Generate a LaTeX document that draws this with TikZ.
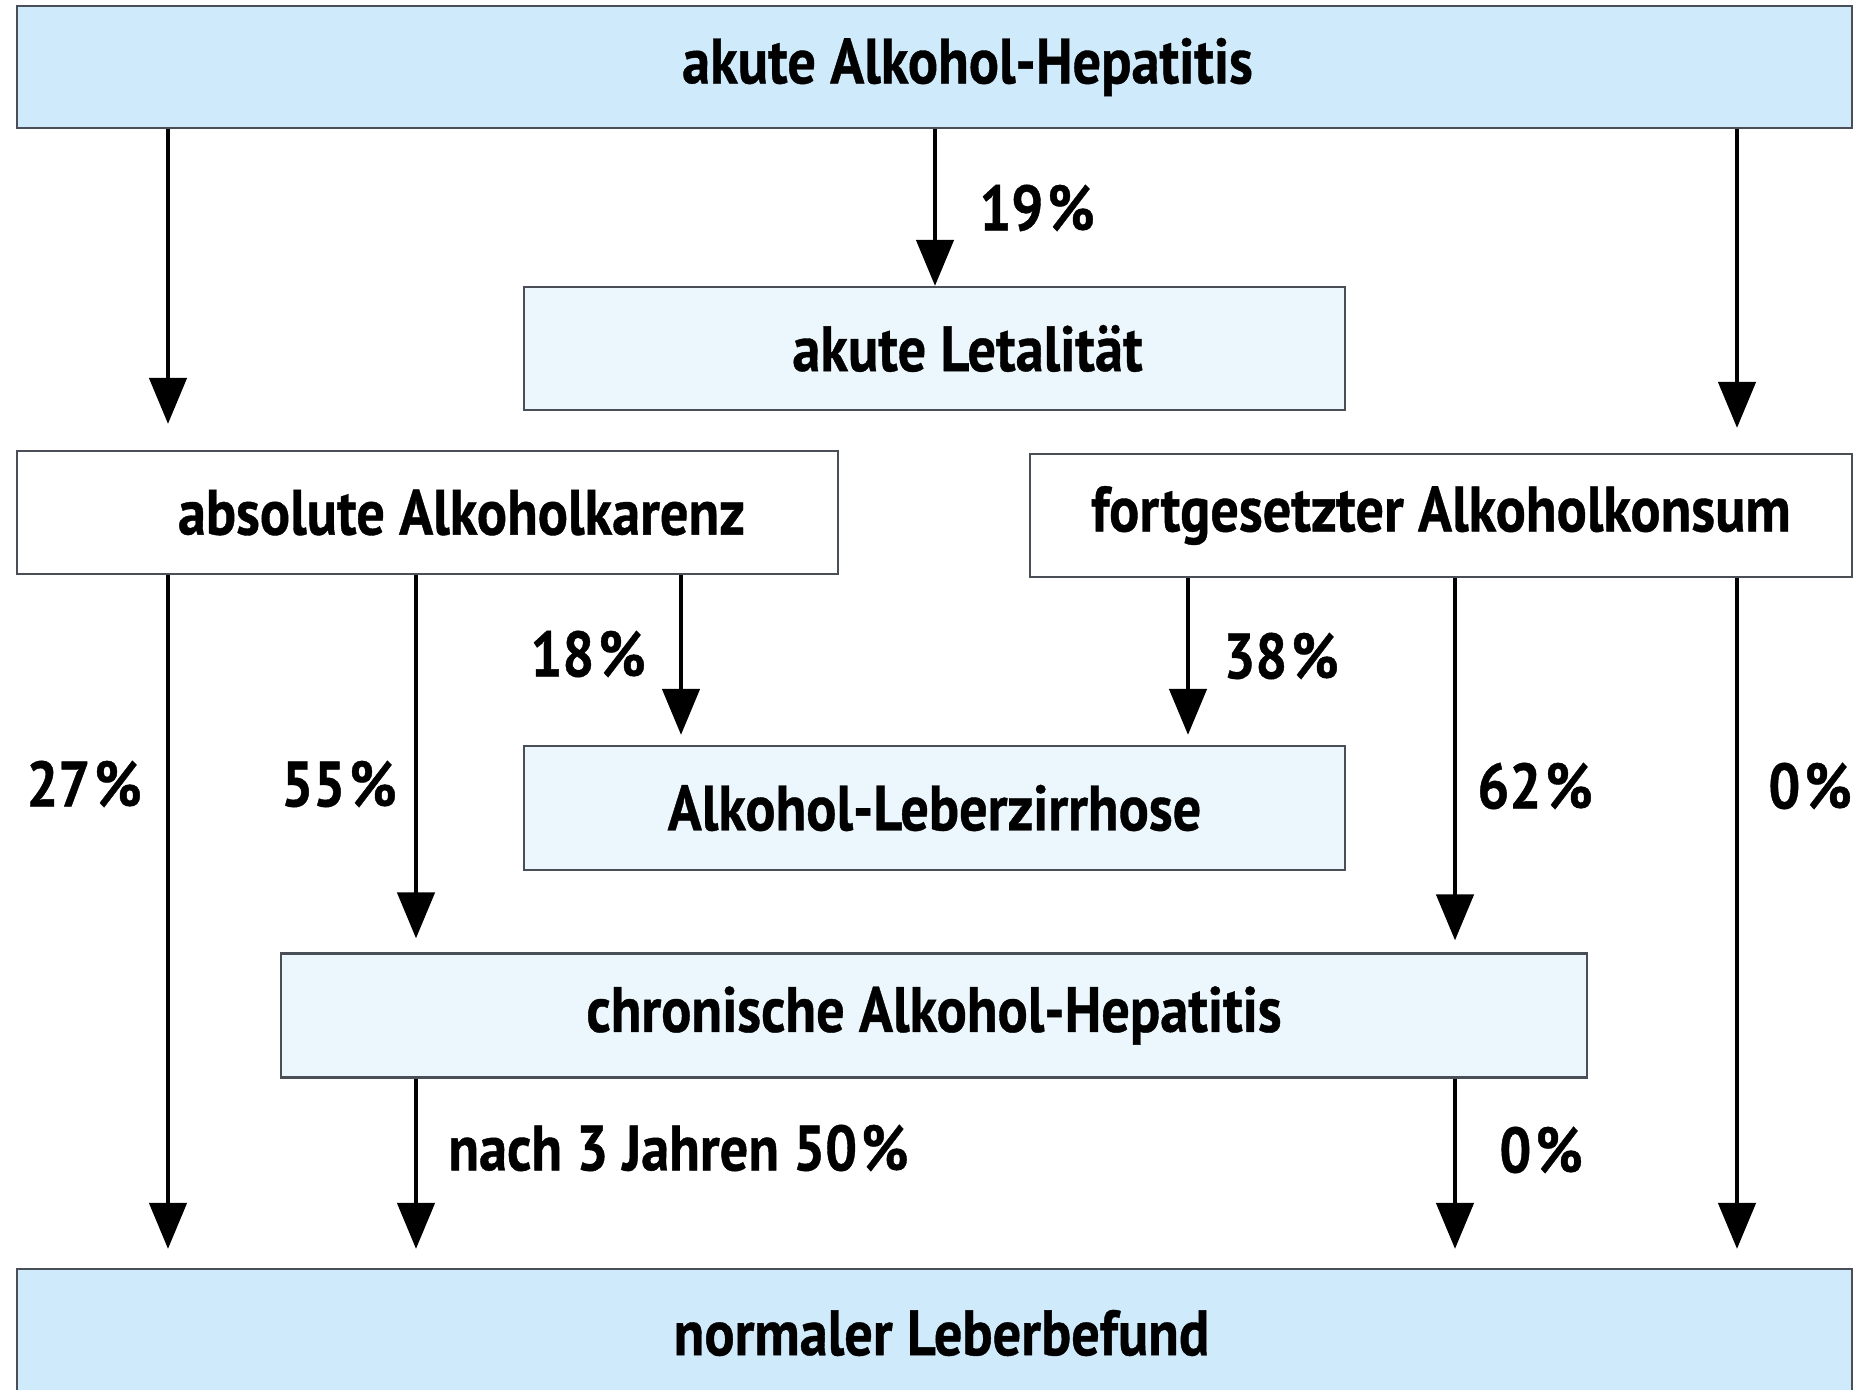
\documentclass[tikz,border=0pt]{standalone}
\usepackage{fontspec}
\setmainfont{PT Sans}[FakeStretch=0.88,BoldFeatures={FakeBold=0.6}]
\usetikzlibrary{arrows.meta}
\definecolor{bluefill}{HTML}{CFEAFA}
\definecolor{palefill}{HTML}{EBF7FD}
\definecolor{boxline}{HTML}{4A4E57}
\newcommand{\pct}{\kern2pt\%}
\begin{document}
\begin{tikzpicture}[x=0.5pt,y=-0.5pt,
  box/.style={draw=boxline,line width=1.1pt,rectangle,inner sep=0pt,
    font=\fontsize{32}{38}\selectfont\bfseries,text=black},
  bluebox/.style={box,fill=bluefill},
  palebox/.style={box,fill=palefill},
  whitebox/.style={box,fill=white},
  arr/.style={line width=2.3pt,-{Triangle[length=23pt,width=18.5pt]}},
  lab/.style={font=\fontsize{32}{38}\selectfont\bfseries,inner sep=0pt}]
\useasboundingbox (0,0) rectangle (1853,1390);
\fill[white] (0,0) rectangle (1853,1390);

% boxes
\node[bluebox,minimum width=917.5pt,minimum height=61pt] (top) at (934.5,67) {\hspace*{33pt}\raisebox{-2.5pt}{akute Alkohol-Hepatitis}};
\node[palebox,minimum width=410.5pt,minimum height=61.5pt] (let) at (934.5,348.5) {\hspace*{33pt}akute Letalität};
\node[whitebox,minimum width=410.5pt,minimum height=61.5pt] (abs) at (427.5,512.5) {\hspace*{34pt}absolute Alkoholkarenz};
\node[whitebox,minimum width=411pt,minimum height=61.5pt] (fort) at (1441,515.5) {fortgesetzter Alkoholkonsum};
\node[palebox,minimum width=410.5pt,minimum height=62pt] (zirr) at (934.5,808) {Alkohol-Leberzirrhose};
\node[palebox,minimum width=653pt,minimum height=62pt] (chron) at (934,1015.5) {chronische Alkohol-Hepatitis};
\node[bluebox,minimum width=917.5pt,minimum height=64pt] (norm) at (934.5,1333) {\hspace*{7pt}normaler Leberbefund};

% arrow columns
\coordinate (xA) at (168,0);
\coordinate (xB) at (416,0);
\coordinate (xC) at (681,0);
\coordinate (xM) at (935,0);
\coordinate (xD) at (1188,0);
\coordinate (xE) at (1455,0);
\coordinate (xF) at (1737,0);

% arrows
\draw[arr,shorten >=13pt] (top.south -| xA) -- (abs.north -| xA);
\draw[arr] (top.south -| xM) -- (let.north -| xM);
\draw[arr,shorten >=12.5pt] (top.south -| xF) -- (fort.north -| xF);
\draw[arr,shorten >=9.5pt] (abs.south -| xA) -- (norm.north -| xA);
\draw[arr,shorten >=7pt] (abs.south -| xB) -- (chron.north -| xB);
\draw[arr,shorten >=5pt] (abs.south -| xC) -- (zirr.north -| xC);
\draw[arr,shorten >=5pt] (fort.south -| xD) -- (zirr.north -| xD);
\draw[arr,shorten >=6pt] (fort.south -| xE) -- (chron.north -| xE);
\draw[arr,shorten >=9.5pt] (fort.south -| xF) -- (norm.north -| xF);
\draw[arr,shorten >=9.5pt] (chron.south -| xB) -- (norm.north -| xB);
\draw[arr,shorten >=9.5pt] (chron.south -| xE) -- (norm.north -| xE);

% labels
\node[lab,anchor=west] (l19) at (979,208) {19\pct};
\node[lab,anchor=east] (l18) at (646,654) {18\pct};
\node[lab,anchor=west] (l38) at (1223,656) {38\pct};
\node[lab,anchor=west] (l27) at (26,784) {27\pct};
\node[lab,anchor=west] (l55) at (281,784) {55\pct};
\node[lab,anchor=west] (l62) at (1477,786) {62\pct};
\node[lab,anchor=west] (l0a) at (1768,786) {0\pct};
\node[lab,anchor=west] (l50) at (448,1148) {nach 3 Jahren 50\pct};
\node[lab,anchor=west] (l0b) at (1499,1150) {0\pct};
\end{tikzpicture}
\end{document}
